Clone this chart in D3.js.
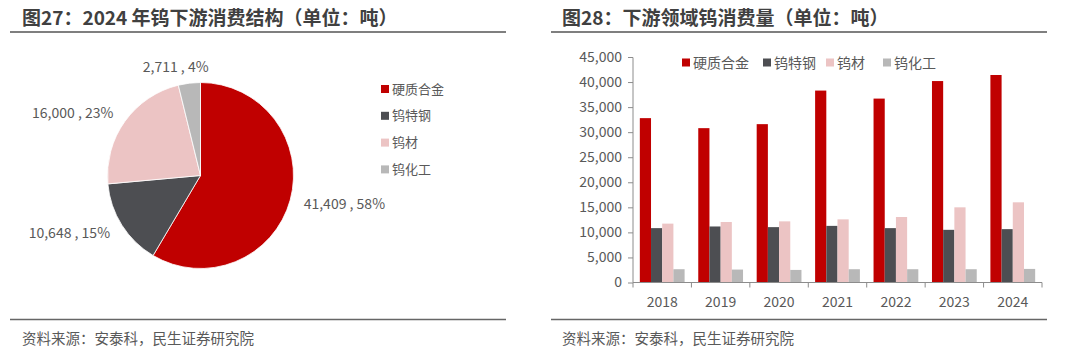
<!DOCTYPE html>
<html><head><meta charset="utf-8">
<script src="https://cdn.jsdelivr.net/npm/d3@7"></script>
<style>
html,body{margin:0;padding:0;background:#fff;}
svg text{font-family:"Noto Sans CJK SC","Noto Sans",sans-serif;}
</style></head>
<body>
<svg id="c" width="1080" height="359"></svg>
<script>
// ---------- data ----------
const pieCategories = ["硬质合金","钨特钢","钨材","钨化工"];
const pieValues = [41409, 10648, 16000, 2711];
const piePctLabels = ["58%","15%","23%","4%"];

const years = ["2018","2019","2020","2021","2022","2023","2024"];
const seriesNames = ["硬质合金","钨特钢","钨材","钨化工"];
const hardAlloy = [32800, 30800, 31600, 38300, 36700, 40200, 41409];
const specialSteel = [10850, 11180, 11050, 11300, 10850, 10510, 10648];
const tungstenMaterial = [11750, 12070, 12200, 12600, 13070, 15000, 16000];
const tungstenChem = [2650, 2580, 2510, 2650, 2650, 2650, 2711];
const yTicks = [0,5000,10000,15000,20000,25000,30000,35000,40000,45000];

const colors = ["#C00000","#4D4E52","#ECC4C4","#B8B8B8"];
const textColor = "#595959";

const svg = d3.select("#c");
svg.append("rect").attr("width",1080).attr("height",359).attr("fill","#fff");

// ---------- titles / rules / sources ----------
const titles = [
  {x:22, text:"图27：2024 年钨下游消费结构（单位：吨）", x0:10, x1:506},
  {x:562, text:"图28：下游领域钨消费量（单位：吨）", x0:551, x1:1047}
];
titles.forEach(t=>{
  svg.append("text").attr("x",t.x).attr("y",25).attr("font-size",19).attr("font-weight","bold")
    .attr("fill","#404040").text(t.text);
  svg.append("line").attr("x1",t.x0).attr("x2",t.x1).attr("y1",32).attr("y2",32)
    .attr("stroke","#555").attr("stroke-width",1.5);
  svg.append("line").attr("x1",t.x0).attr("x2",t.x1).attr("y1",319.5).attr("y2",319.5)
    .attr("stroke","#666").attr("stroke-width",1.5);
  svg.append("text").attr("x",t.x).attr("y",344).attr("font-size",14.5)
    .attr("fill",textColor).text("资料来源：安泰科，民生证券研究院");
});

// ---------- pie ----------
const cx = 200.5, cy = 175.5, R = 93;
const pie = d3.pie().sort(null).value(d=>d)(pieValues);
const arc = d3.arc().innerRadius(0).outerRadius(R);
const gPie = svg.append("g").attr("transform",`translate(${cx},${cy})`);
gPie.selectAll("path").data(pie).join("path")
  .attr("d",arc).attr("fill",(d,i)=>colors[i]).attr("stroke","#fff").attr("stroke-width",0.8);
const fmt = d3.format(",");
gPie.selectAll("text.lbl").data(pie).join("text").attr("class","lbl")
  .each(function(d,i){
    const a = (d.startAngle+d.endAngle)/2;
    const r = 107;
    let x = Math.sin(a)*r, y = -Math.cos(a)*r;
    let anchor = x>0 ? "start" : "end";
    if (Math.abs(Math.sin(a))<0.3){ anchor="middle"; x -= 12; y -= 2; }
    d3.select(this).attr("x",x).attr("y",y+5).attr("text-anchor",anchor)
      .attr("font-size",14).attr("fill",textColor)
      .text(fmt(pieValues[i])+" , "+piePctLabels[i]);
  });

// pie legend
const gLeg = svg.append("g");
pieCategories.forEach((c,i)=>{
  const y = 89 + i*26.8;
  gLeg.append("rect").attr("x",381).attr("y",y-4).attr("width",8).attr("height",8).attr("fill",colors[i]);
  gLeg.append("text").attr("x",392).attr("y",y+4.5).attr("font-size",13).attr("fill",textColor).text(c);
});

// ---------- bar chart ----------
const x0 = d3.scaleBand().domain(years).range([633,1042]).padding(0);
const x1 = d3.scaleBand().domain(seriesNames).range([0,x0.bandwidth()]).paddingInner(0).paddingOuter(0.61);
const y = d3.scaleLinear().domain([0,45000]).range([282.5,57]);
const seriesData = [hardAlloy, specialSteel, tungstenMaterial, tungstenChem];

const gBars = svg.append("g");
years.forEach((yr,j)=>{
  seriesNames.forEach((s,k)=>{
    const v = seriesData[k][j];
    gBars.append("rect").attr("x",x0(yr)+x1(s)).attr("width",x1.bandwidth())
      .attr("y",y(v)).attr("height",y(0)-y(v)).attr("fill",colors[k]);
  });
});

// y axis
const yAxis = d3.axisLeft(y).tickValues(yTicks).tickFormat(d3.format(",")).tickSize(5).tickPadding(6);
const gy = svg.append("g").attr("transform","translate(633,0)").call(yAxis);
gy.select(".domain").attr("stroke","#8c8c8c").attr("d","M-5,57.5H0V282.5");
gy.selectAll(".tick line").attr("stroke","#8c8c8c");
gy.selectAll(".tick text").attr("font-size",14).attr("fill",textColor)
  .attr("font-family",'"Noto Sans CJK SC","Noto Sans",sans-serif');

// x axis
const xAxis = d3.axisBottom(x0).tickSize(0).tickPadding(15);
const gx = svg.append("g").attr("transform","translate(0,282.5)").call(xAxis);
gx.select(".domain").attr("stroke","#8c8c8c").attr("d","M633,0H1042");
gx.selectAll(".tick text").attr("font-size",14).attr("fill",textColor)
  .attr("font-family",'"Noto Sans CJK SC","Noto Sans",sans-serif');
const bounds = years.map(d=>x0(d)).concat([x0.range()[1]]);
gx.selectAll("line.bt").data(bounds).join("line").attr("class","bt")
  .attr("x1",d=>d).attr("x2",d=>d).attr("y1",0).attr("y2",5).attr("stroke","#8c8c8c");

// bar legend
const legItems = [{x:682},{x:763},{x:826},{x:883}];
seriesNames.forEach((s,i)=>{
  svg.append("rect").attr("x",legItems[i].x).attr("y",58.5).attr("width",8).attr("height",8).attr("fill",colors[i]);
  svg.append("text").attr("x",legItems[i].x+11).attr("y",67.5).attr("font-size",14).attr("fill",textColor).text(s);
});
</script>
</body></html>
